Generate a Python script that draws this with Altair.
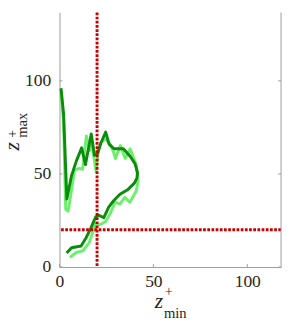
import altair as alt
import pandas as pd

# dark green series (z_min, z_max)
dark_x = [0.8, 2.2, 3.9, 6.4, 9.0, 11.8, 13.8, 16.9, 18.6, 20.3, 22.0, 24.6, 26.4, 29.0, 34.0,
          37.6, 40.2, 41.6, 41.2, 40.0, 36.5, 32.2, 28.8, 26.2, 23.6, 21.0, 19.3, 16.7, 14.1,
          11.5, 6.4, 3.8]
dark_y = [96.0, 82.0, 36.5, 49.0, 57.0, 64.0, 55.0, 71.5, 60.0, 61.0, 66.5, 72.5, 66.0, 63.5, 63.5,
          59.5, 55.5, 50.5, 47.8, 45.2, 41.7, 39.1, 35.6, 32.2, 26.5, 27.8, 27.0, 20.9, 15.6,
          11.3, 10.4, 7.5]

# light green series
light_x = [1.0, 2.2, 3.3, 4.6, 6.2, 8.0, 10.5, 12.3, 14.3, 16.0, 17.2, 19.5, 20.6, 22.0, 24.5,
           27.0, 28.8, 29.8, 32.4, 35.0, 37.6, 40.9, 41.8, 40.9, 37.4, 34.8, 32.2, 29.6, 27.0,
           24.5, 21.0, 19.3, 17.6, 15.8, 12.4, 9.0, 5.5]
light_y = [93.0, 76.0, 31.0, 30.0, 40.0, 52.0, 53.0, 52.5, 70.4, 62.6, 66.0, 51.3, 62.0, 67.0, 68.7,
           66.0, 61.7, 58.3, 65.2, 58.3, 63.5, 54.8, 46.0, 40.8, 34.8, 37.4, 33.9, 34.8, 28.7,
           24.3, 22.6, 23.5, 18.3, 13.0, 8.7, 7.8, 5.2]

x_ticks = [0, 50, 100]
y_ticks = [0, 50, 100]
ref_x = 20
ref_y = 20

W, H = 228, 262
FONT = "'Liberation Serif', 'Times New Roman', serif"
AXIS_GRAY = "#9a9a9a"
LABEL = "#262626"

dark_df = pd.DataFrame({"zmin": dark_x, "zmax": dark_y, "o": range(len(dark_x))})
light_df = pd.DataFrame({"zmin": light_x, "zmax": light_y, "o": range(len(light_x))})

xs = alt.Scale(domain=[0, 118], nice=False, zero=False)
ys = alt.Scale(domain=[0, 136.7], nice=False, zero=False)

x_axis = alt.Axis(values=x_ticks, title=None, grid=False, ticks=False, domain=True,
                  domainColor=AXIS_GRAY, labelFont=FONT, labelFontSize=18, labelColor=LABEL,
                  labelPadding=6, labelFlush=False)
y_axis = alt.Axis(values=y_ticks, title=None, grid=False, ticks=False, domain=True,
                  domainColor=AXIS_GRAY, labelFont=FONT, labelFontSize=18, labelColor=LABEL,
                  labelPadding=9, labelFlush=False)

light = alt.Chart(light_df).mark_line(strokeWidth=3, color="#6cf06c", strokeJoin="round").encode(
    x=alt.X("zmin:Q", scale=xs, axis=x_axis),
    y=alt.Y("zmax:Q", scale=ys, axis=y_axis),
    order="o:Q",
)
dark = alt.Chart(dark_df).mark_line(strokeWidth=3, color="#0b8c0b", strokeJoin="round").encode(
    x=alt.X("zmin:Q", scale=xs),
    y=alt.Y("zmax:Q", scale=ys),
    order="o:Q",
)

vline = alt.Chart(pd.DataFrame({"v": [ref_x]})).mark_rule(
    color="#c80000", strokeWidth=3, strokeDash=[2.8, 1.5]).encode(x=alt.X("v:Q", scale=xs))
hline = alt.Chart(pd.DataFrame({"v": [ref_y]})).mark_rule(
    color="#c80000", strokeWidth=3, strokeDash=[2.8, 1.5]).encode(y=alt.Y("v:Q", scale=ys))

# inward ticks and right border
yt = pd.DataFrame({"v": y_ticks})
xt = pd.DataFrame({"v": x_ticks})
tick_l = alt.Chart(yt).mark_rule(color=AXIS_GRAY, strokeWidth=1).encode(
    y=alt.Y("v:Q", scale=ys), x=alt.value(0), x2=alt.value(3))
tick_r = alt.Chart(yt).mark_rule(color=AXIS_GRAY, strokeWidth=1).encode(
    y=alt.Y("v:Q", scale=ys), x=alt.value(W - 3), x2=alt.value(W))
tick_b = alt.Chart(xt).mark_rule(color=AXIS_GRAY, strokeWidth=1).encode(
    x=alt.X("v:Q", scale=xs), y=alt.value(H - 3), y2=alt.value(H))
right_border = alt.Chart(pd.DataFrame({"v": [0]})).mark_rule(color=AXIS_GRAY, strokeWidth=1).encode(
    x=alt.value(W), y=alt.value(0), y2=alt.value(H))

def txt(s, x, y, size, italic=False, angle=0):
    return alt.Chart(pd.DataFrame({"t": [s]})).mark_text(
        font=FONT, fontSize=size, fontStyle="italic" if italic else "normal",
        color=LABEL, align="left", baseline="alphabetic", angle=angle,
    ).encode(text="t:N", x=alt.value(x), y=alt.value(y))

titles = [
    txt("z", 98, 304, 22, italic=True),
    txt("+", 108.5, 292, 14),
    txt("min", 107.5, 314, 15),
    txt("z", -42, 142, 22, italic=True, angle=270),
    txt("+", -44, 129, 14, angle=270),
    txt("max", -33, 129, 15, angle=270),
]

chart = alt.layer(
    light, dark, vline, hline, tick_l, tick_r, tick_b, right_border, *titles
).properties(
    width=W, height=H,
    autosize=alt.AutoSizeParams(type="none"),
    padding={"left": 53, "top": 0, "right": 2, "bottom": 54},
).configure_view(stroke=None)

chart.save("out.html", embed_options={"renderer": "svg", "actions": False})
